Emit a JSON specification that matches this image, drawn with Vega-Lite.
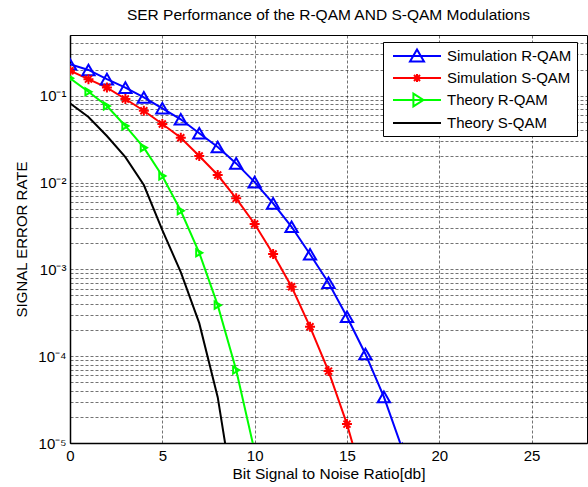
{
  "$schema": "https://vega.github.io/schema/vega-lite/v6.json",
  "autosize": {"type": "none"},
  "padding": {"left": 70, "top": 35, "right": 1, "bottom": 44},
  "width": 517,
  "height": 408,
  "background": "white",
  "title": {"text": "SER Performance of the R-QAM AND S-QAM Modulations", "font": "Liberation Sans", "fontSize": 15.5, "fontWeight": "normal", "color": "#000", "offset": 12, "anchor": "middle"},
  "config": {
    "view": {"stroke": "#000", "strokeWidth": 1},
    "axis": {"labelFont": "Liberation Sans", "titleFont": "Liberation Sans", "labelColor": "#000", "titleColor": "#000", "titleFontWeight": "normal", "domain": true, "domainColor": "#000", "domainWidth": 1.5, "ticks": false, "gridColor": "#000", "gridOpacity": 0.55, "gridDash": [3, 2], "gridWidth": 1}
  },
  "data": {"values": [
    {"x": 0, "ser": 0.230, "series": "Simulation R-QAM"},
    {"x": 1, "ser": 0.198, "series": "Simulation R-QAM"},
    {"x": 2, "ser": 0.155, "series": "Simulation R-QAM"},
    {"x": 3, "ser": 0.124, "series": "Simulation R-QAM"},
    {"x": 4, "ser": 0.0957, "series": "Simulation R-QAM"},
    {"x": 5, "ser": 0.0716, "series": "Simulation R-QAM"},
    {"x": 6, "ser": 0.0535, "series": "Simulation R-QAM"},
    {"x": 7, "ser": 0.0369, "series": "Simulation R-QAM"},
    {"x": 8, "ser": 0.0256, "series": "Simulation R-QAM"},
    {"x": 9, "ser": 0.0166, "series": "Simulation R-QAM"},
    {"x": 10, "ser": 0.0101, "series": "Simulation R-QAM"},
    {"x": 11, "ser": 0.00575, "series": "Simulation R-QAM"},
    {"x": 12, "ser": 0.00309, "series": "Simulation R-QAM"},
    {"x": 13, "ser": 0.00149, "series": "Simulation R-QAM"},
    {"x": 14, "ser": 0.00070, "series": "Simulation R-QAM"},
    {"x": 15, "ser": 0.000284, "series": "Simulation R-QAM"},
    {"x": 16, "ser": 0.000106, "series": "Simulation R-QAM"},
    {"x": 17, "ser": 0.000034, "series": "Simulation R-QAM"},
    {"x": 18, "ser": 0.0000085, "series": "Simulation R-QAM"},
    {"x": 0, "ser": 0.194, "series": "Simulation S-QAM"},
    {"x": 1, "ser": 0.155, "series": "Simulation S-QAM"},
    {"x": 2, "ser": 0.124, "series": "Simulation S-QAM"},
    {"x": 3, "ser": 0.0916, "series": "Simulation S-QAM"},
    {"x": 4, "ser": 0.0671, "series": "Simulation S-QAM"},
    {"x": 5, "ser": 0.0472, "series": "Simulation S-QAM"},
    {"x": 6, "ser": 0.0328, "series": "Simulation S-QAM"},
    {"x": 7, "ser": 0.0202, "series": "Simulation S-QAM"},
    {"x": 8, "ser": 0.0122, "series": "Simulation S-QAM"},
    {"x": 9, "ser": 0.00657, "series": "Simulation S-QAM"},
    {"x": 10, "ser": 0.00333, "series": "Simulation S-QAM"},
    {"x": 11, "ser": 0.0015, "series": "Simulation S-QAM"},
    {"x": 12, "ser": 0.00063, "series": "Simulation S-QAM"},
    {"x": 13, "ser": 0.000218, "series": "Simulation S-QAM"},
    {"x": 14, "ser": 0.0000673, "series": "Simulation S-QAM"},
    {"x": 15, "ser": 0.0000165, "series": "Simulation S-QAM"},
    {"x": 16, "ser": 0.000003, "series": "Simulation S-QAM"},
    {"x": 0, "ser": 0.159, "series": "Theory R-QAM"},
    {"x": 1, "ser": 0.111, "series": "Theory R-QAM"},
    {"x": 2, "ser": 0.076, "series": "Theory R-QAM"},
    {"x": 3, "ser": 0.0448, "series": "Theory R-QAM"},
    {"x": 4, "ser": 0.0252, "series": "Theory R-QAM"},
    {"x": 5, "ser": 0.0119, "series": "Theory R-QAM"},
    {"x": 6, "ser": 0.00473, "series": "Theory R-QAM"},
    {"x": 7, "ser": 0.00155, "series": "Theory R-QAM"},
    {"x": 8, "ser": 0.000387, "series": "Theory R-QAM"},
    {"x": 9, "ser": 0.0000692, "series": "Theory R-QAM"},
    {"x": 10, "ser": 0.000008, "series": "Theory R-QAM"},
    {"x": 0, "ser": 0.0817, "series": "Theory S-QAM"},
    {"x": 1, "ser": 0.0568, "series": "Theory S-QAM"},
    {"x": 2, "ser": 0.0343, "series": "Theory S-QAM"},
    {"x": 3, "ser": 0.0196, "series": "Theory S-QAM"},
    {"x": 4, "ser": 0.00936, "series": "Theory S-QAM"},
    {"x": 5, "ser": 0.00283, "series": "Theory S-QAM"},
    {"x": 6, "ser": 0.00093, "series": "Theory S-QAM"},
    {"x": 7, "ser": 0.00024, "series": "Theory S-QAM"},
    {"x": 8, "ser": 0.0000337, "series": "Theory S-QAM"},
    {"x": 9, "ser": 0.0000016, "series": "Theory S-QAM"}
  ]},
  "encoding": {
    "x": {"field": "x", "type": "quantitative", "scale": {"domain": [0, 28], "nice": false, "zero": false},
      "axis": {"title": "Bit Signal to Noise Ratio[db]", "values": [0, 5, 10, 15, 20, 25], "format": "d", "labelFontSize": 15, "titleFontSize": 15.5, "labelPadding": 5, "titlePadding": 3, "labelFlush": false}},
    "y": {"field": "ser", "type": "quantitative", "scale": {"type": "log", "domain": [0.00001, 0.5], "nice": false},
      "axis": {"title": "SIGNAL ERROR RATE", "titleFontSize": 15, "labelFontSize": 15, "labelPadding": 4, "titlePadding": 8, "labelOverlap": false, "labelFlush": false,
        "values": [0.00001, 0.00002, 0.00003, 0.00004, 0.00005, 0.00006, 0.00007, 0.00008, 0.00009, 0.0001, 0.0002, 0.0003, 0.0004, 0.0005, 0.0006, 0.0007, 0.0008, 0.0009, 0.001, 0.002, 0.003, 0.004, 0.005, 0.006, 0.007, 0.008, 0.009, 0.01, 0.02, 0.03, 0.04, 0.05, 0.06, 0.07, 0.08, 0.09, 0.1, 0.2, 0.3, 0.4],
        "labelExpr": "abs(log(datum.value)/LN10 - round(log(datum.value)/LN10)) < 0.001 ? '10' + ['⁰','⁻¹','⁻²','⁻³','⁻⁴','⁻⁵'][-round(log(datum.value)/LN10)] : ''"}},
    "color": {"field": "series", "type": "nominal",
      "scale": {"domain": ["Simulation R-QAM", "Simulation S-QAM", "Theory R-QAM", "Theory S-QAM"], "range": ["#0000ff", "#ff0000", "#00ff00", "#000000"]}}
  },
  "layer": [
    {
      "mark": {"type": "line", "strokeWidth": 2, "clip": true},
      "encoding": {
        "color": {"field": "series", "type": "nominal",
          "scale": {"domain": ["Simulation R-QAM", "Simulation S-QAM", "Theory R-QAM", "Theory S-QAM"], "range": ["#0000ff", "#ff0000", "#00ff00", "#000000"]},
          "legend": {"title": null, "orient": "none", "legendX": 313, "legendY": 7, "strokeColor": "#000", "fillColor": "#fff", "padding": 5, "labelFont": "Liberation Sans", "labelFontSize": 15, "labelColor": "#000", "symbolSize": 256, "symbolStrokeWidth": 2, "rowPadding": 3, "symbolOffset": 20, "labelOffset": 21,
            "encode": {"symbols": {"update": {
              "shape": {"signal": "datum.value === 'Simulation R-QAM' ? 'M-3,0H3M-0.875,0.69L0,-0.81L0.875,0.69Z' : datum.value === 'Simulation S-QAM' ? 'M-3,0H3M0,-0.5V0.5M-0.38,-0.38L0.38,0.38M-0.38,0.38L0.38,-0.38' : datum.value === 'Theory R-QAM' ? 'M-3,0H3M-0.45,-0.8L0.8,0L-0.45,0.8Z' : 'M-3,0H3'"},
              "fill": {"value": "transparent"},
              "strokeWidth": {"value": 2}
            }}}}}
      }
    },
    {
      "transform": [{"filter": "datum.series !== 'Theory S-QAM'"}],
      "mark": {"type": "point", "filled": false, "strokeWidth": 2, "clip": true, "opacity": 1},
      "encoding": {
        "shape": {"field": "series", "type": "nominal", "legend": null,
          "scale": {"domain": ["Simulation R-QAM", "Simulation S-QAM", "Theory R-QAM"], "range": ["triangle-up", "M0,-1V1M-1,0H1M-0.7,-0.7L0.7,0.7M-0.7,0.7L0.7,-0.7", "triangle-right"]}},
        "size": {"field": "series", "type": "nominal", "legend": null,
          "scale": {"domain": ["Simulation R-QAM", "Simulation S-QAM", "Theory R-QAM"], "range": [150, 50, 150]}}
      }
    }
  ]
}
